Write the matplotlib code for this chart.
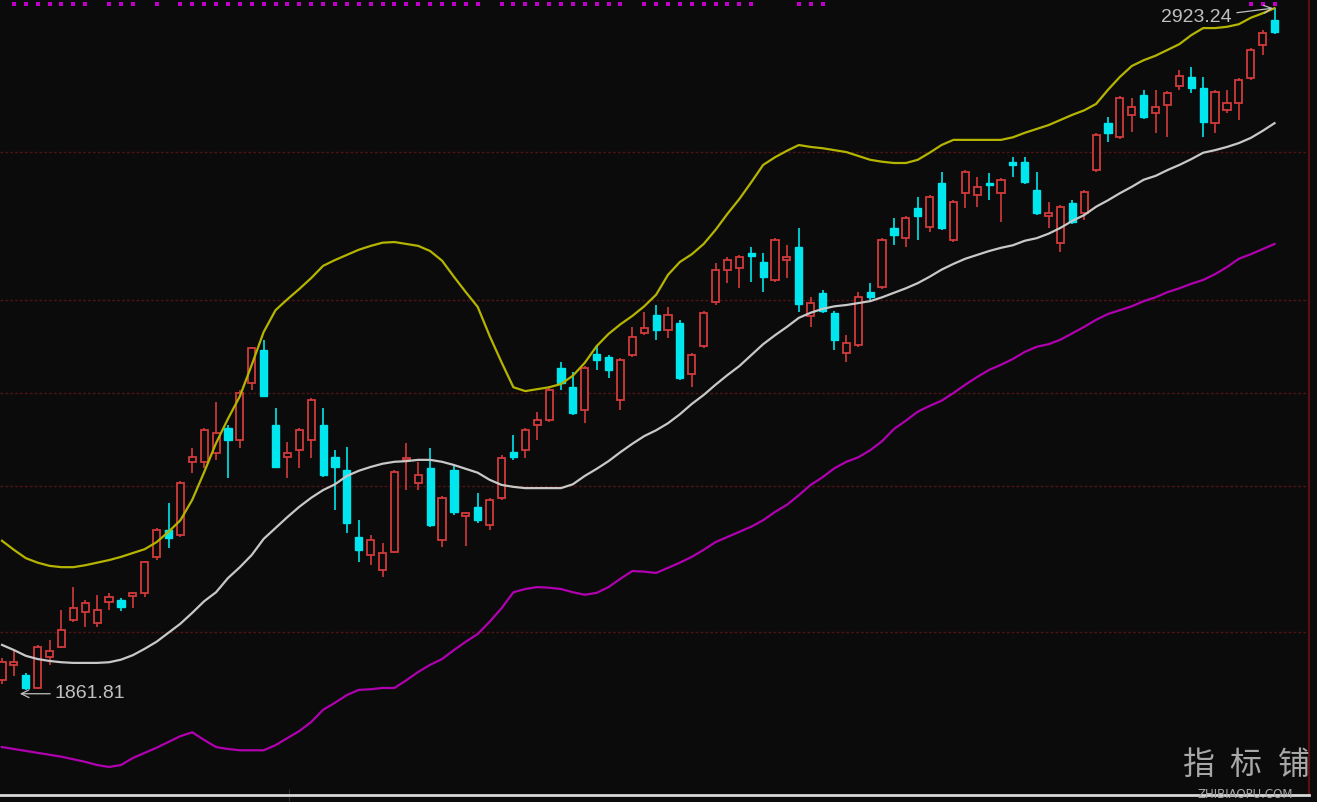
import numpy as np
import matplotlib
matplotlib.use("Agg")
import matplotlib.pyplot as plt
from matplotlib.patches import Rectangle

# daily candles (open, high, low, close)
opens = [1877, 1901, 1885, 1865, 1913, 1929, 1971, 1983, 1966, 1999,
         2002, 2008, 2013, 2069, 2111, 2103, 2217, 2217, 2231, 2270,
         2251, 2340, 2391, 2274, 2224, 2235, 2251, 2274, 2224, 2204,
         2100, 2072, 2049, 2077, 2220, 2184, 2207, 2095, 2204, 2133,
         2147, 2119, 2161, 2232, 2235, 2274, 2282, 2363, 2333, 2298,
         2385, 2380, 2313, 2383, 2417, 2445, 2422, 2433, 2354, 2397,
         2466, 2516, 2519, 2542, 2528, 2500, 2531, 2551, 2444, 2480,
         2449, 2386, 2399, 2481, 2489, 2581, 2565, 2612, 2582, 2651,
         2562, 2635, 2632, 2651, 2635, 2684, 2684, 2640, 2600, 2558,
         2620, 2604, 2671, 2744, 2722, 2757, 2788, 2760, 2772, 2802,
         2816, 2799, 2744, 2765, 2775, 2814, 2866, 2905]
highs = [1912, 1924, 1888, 1932, 1940, 1986, 2022, 2002, 2010, 2013,
         2005, 2014, 2063, 2114, 2153, 2187, 2238, 2270, 2310, 2274,
         2329, 2396, 2407, 2301, 2248, 2270, 2316, 2301, 2235, 2240,
         2126, 2103, 2091, 2204, 2246, 2217, 2238, 2164, 2212, 2139,
         2168, 2161, 2228, 2259, 2270, 2295, 2332, 2372, 2357, 2366,
         2399, 2383, 2379, 2427, 2450, 2461, 2458, 2438, 2386, 2452,
         2526, 2536, 2539, 2551, 2542, 2565, 2554, 2581, 2473, 2484,
         2452, 2414, 2481, 2495, 2565, 2596, 2600, 2629, 2632, 2668,
         2624, 2671, 2660, 2666, 2659, 2691, 2691, 2668, 2621, 2617,
         2624, 2640, 2729, 2754, 2786, 2783, 2796, 2796, 2794, 2827,
         2831, 2816, 2796, 2796, 2814, 2861, 2889, 2923.24]
lows = [1871, 1884, 1861.81, 1863, 1901, 1927, 1968, 1960, 1960, 1986,
        1985, 1989, 2007, 2064, 2083, 2100, 2200, 2207, 2220, 2192,
        2238, 2329, 2318, 2207, 2192, 2207, 2223, 2193, 2142, 2106,
        2061, 2056, 2038, 2075, 2173, 2173, 2116, 2084, 2134, 2086,
        2122, 2111, 2158, 2220, 2223, 2251, 2279, 2329, 2290, 2277,
        2360, 2347, 2298, 2380, 2414, 2407, 2410, 2344, 2333, 2394,
        2461, 2495, 2487, 2497, 2481, 2497, 2503, 2450, 2427, 2449,
        2391, 2372, 2396, 2469, 2486, 2554, 2551, 2562, 2575, 2578,
        2559, 2612, 2614, 2624, 2590, 2660, 2649, 2601, 2581, 2543,
        2587, 2593, 2668, 2715, 2719, 2730, 2750, 2729, 2722, 2796,
        2791, 2722, 2729, 2760, 2749, 2811, 2850, 2883]
closes = [1905, 1905, 1865, 1929, 1923, 1955, 1989, 1997, 1986, 2007,
          1991, 2013, 2061, 2111, 2098, 2184, 2224, 2266, 2262, 2251,
          2324, 2394, 2319, 2209, 2231, 2266, 2313, 2196, 2209, 2122,
          2080, 2095, 2075, 2201, 2223, 2196, 2119, 2161, 2139, 2137,
          2126, 2158, 2223, 2224, 2266, 2282, 2329, 2340, 2293, 2363,
          2375, 2360, 2375, 2411, 2425, 2422, 2445, 2347, 2383, 2449,
          2516, 2531, 2536, 2537, 2505, 2562, 2536, 2463, 2464, 2452,
          2407, 2402, 2473, 2473, 2562, 2570, 2596, 2600, 2629, 2581,
          2621, 2668, 2645, 2648, 2656, 2679, 2652, 2604, 2604, 2614,
          2590, 2637, 2726, 2729, 2783, 2769, 2754, 2769, 2791, 2817,
          2799, 2746, 2792, 2775, 2811, 2858, 2884, 2886]

# bollinger bands
upper = [2094, 2080, 2067, 2060, 2055, 2053, 2053, 2056, 2060, 2064,
         2069, 2075, 2081, 2092, 2108, 2126, 2158, 2201, 2246, 2284,
         2319, 2368, 2419, 2453, 2470, 2486, 2503, 2522, 2531, 2539,
         2547, 2553, 2558, 2559, 2556, 2553, 2545, 2530, 2505, 2481,
         2458, 2413, 2372, 2333, 2327, 2330, 2333, 2338, 2351, 2371,
         2397, 2416, 2431, 2444, 2459, 2477, 2508, 2528, 2540, 2556,
         2578, 2603, 2626, 2652, 2679, 2691, 2701, 2710, 2707, 2705,
         2702, 2699, 2693, 2687, 2684, 2682, 2682, 2687, 2698, 2710,
         2718, 2718, 2718, 2718, 2718, 2722, 2729, 2735, 2741, 2749,
         2757, 2764, 2774, 2796, 2816, 2833, 2842, 2849, 2858, 2867,
         2881, 2892, 2892, 2894, 2898, 2908, 2915, 2923]
mid = [1932, 1924, 1915, 1910, 1907, 1905, 1904, 1904, 1904, 1905,
       1909, 1916, 1926, 1937, 1951, 1965, 1982, 2000, 2014, 2036,
       2053, 2072, 2097, 2114, 2131, 2147, 2161, 2173, 2182, 2195,
       2203, 2209, 2214, 2217, 2218, 2220, 2220, 2217, 2212, 2206,
       2200, 2189, 2181, 2178, 2176, 2176, 2176, 2176, 2182, 2195,
       2206, 2218, 2232, 2245, 2257, 2266, 2277, 2291, 2307, 2321,
       2337, 2352, 2366, 2383, 2400, 2414, 2427, 2441, 2449, 2455,
       2459, 2461, 2464, 2467, 2473, 2480, 2487, 2495, 2505, 2516,
       2525, 2533, 2539, 2545, 2550, 2554, 2561, 2565, 2572, 2581,
       2592, 2601, 2614, 2624, 2635, 2645, 2656, 2662, 2671, 2679,
       2688, 2698, 2702, 2707, 2713, 2721, 2732, 2744]
lower = [1773, 1770, 1767, 1764, 1761, 1758, 1754, 1750, 1745, 1742,
         1745, 1756, 1764, 1772, 1781, 1790, 1796, 1784, 1773, 1770,
         1768, 1768, 1768, 1776, 1787, 1798, 1812, 1831, 1842, 1854,
         1862, 1863, 1865, 1865, 1877, 1890, 1901, 1910, 1924, 1937,
         1949, 1968, 1989, 2014, 2019, 2022, 2021, 2019, 2014, 2010,
         2013, 2022, 2035, 2047, 2046, 2044, 2052, 2060, 2069, 2080,
         2092, 2100, 2108, 2116, 2126, 2139, 2150, 2165, 2181, 2193,
         2207, 2217, 2224, 2235, 2249, 2268, 2281, 2295, 2304, 2312,
         2324, 2337, 2349, 2360, 2368, 2377, 2388, 2396, 2400, 2407,
         2417, 2427, 2438, 2447, 2453, 2459, 2467, 2473, 2481, 2487,
         2494, 2500, 2509, 2520, 2533, 2540, 2548, 2556]

# candles that carry a magenta signal dot along the top edge
signal_days = [1, 2, 3, 4, 5, 6, 7, 9, 10, 11, 13] + list(range(15, 41)) \
    + list(range(42, 53)) + list(range(54, 64)) + [67, 68, 69, 105, 106, 107]

grid_levels = [2699, 2469, 2324, 2179, 1952]
high_label = "2923.24"
low_label = "1861.81"

BG = "#0b0b0b"
UP = "#d23a3a"
DOWN = "#00e6ee"

fig = plt.figure(figsize=(13.17, 8.02), dpi=100, facecolor=BG)
ax = fig.add_axes([0, 7 / 802, 1309 / 1317, 795 / 802], facecolor=BG)

n = len(opens)
idx = np.arange(n)

# grid lines
for g in grid_levels:
    ax.axhline(g, color="#4e1414", lw=1.0, ls=(0, (2, 1.5)), zorder=1)

# candles
w = 0.6
for i in idx:
    o, h, l, c = opens[i], highs[i], lows[i], closes[i]
    if c >= o:
        col = UP
        ax.vlines(i, l, h, color=col, lw=1.2, zorder=2)
        ax.add_patch(Rectangle((i - w / 2, o), w, max(c - o, 1.5),
                               facecolor=BG, edgecolor=col, lw=1.3, zorder=3))
    else:
        col = DOWN
        ax.vlines(i, l, h, color=col, lw=1.2, zorder=2)
        ax.add_patch(Rectangle((i - w / 2, c), w, max(o - c, 2.5),
                               facecolor=col, edgecolor=col, lw=1.0, zorder=3))

# bands
ax.plot(idx, upper, color="#b5b400", lw=1.6, zorder=4)
ax.plot(idx, mid, color="#c8c8c8", lw=1.6, zorder=4)
ax.plot(idx, lower, color="#b000b0", lw=1.6, zorder=4)

# signal dots at the top
ax.scatter(signal_days, [2929.5] * len(signal_days), marker="s", s=10,
           color="#c000c8", linewidths=0, zorder=5)

# high / low marks
ax.annotate(high_label, xy=(n - 1, highs[-1]), xytext=(100.4, 2908),
            color="#c0c0c0", fontsize=14, family="Liberation Sans",
            ha="center", va="center", zorder=6,
            arrowprops=dict(arrowstyle="->", color="#c0c0c0", lw=0.9,
                            shrinkA=2, shrinkB=1))
ax.annotate(low_label, xy=(1.5, 1856), xytext=(4.4, 1856),
            color="#c0c0c0", fontsize=14, family="Liberation Sans",
            ha="left", va="center", zorder=6,
            arrowprops=dict(arrowstyle="->", color="#c0c0c0", lw=0.9,
                            shrinkA=1, shrinkB=0))

ax.set_xlim(-0.17, 109.9)
ax.set_ylim(1698.4, 2935.7)
ax.set_xticks([24.1])
ax.set_yticks([])
ax.tick_params(axis="x", direction="inout", length=8, color="#303030",
               labelbottom=False)
for side in ["top", "left"]:
    ax.spines[side].set_visible(False)
ax.spines["bottom"].set_color("#d8d8d8")
ax.spines["bottom"].set_linewidth(2)
ax.spines["right"].set_color("#5a1010")
ax.spines["right"].set_linewidth(1.5)

# watermark
for ch, xp in zip("指标铺", [1198, 1245, 1294]):
    fig.text(xp / 1317, 1 - 765 / 802, ch, color="#a8a8a8", fontsize=23,
             family=["Noto Sans CJK SC", "DejaVu Sans"], ha="center", va="center")
fig.text(1245 / 1317, 1 - 794 / 802, "ZHIBIAOPU.COM", color="#a8a8a8",
         fontsize=8.5, family="DejaVu Sans", ha="center", va="center")

fig.savefig("out.png", dpi=100, facecolor=BG)
